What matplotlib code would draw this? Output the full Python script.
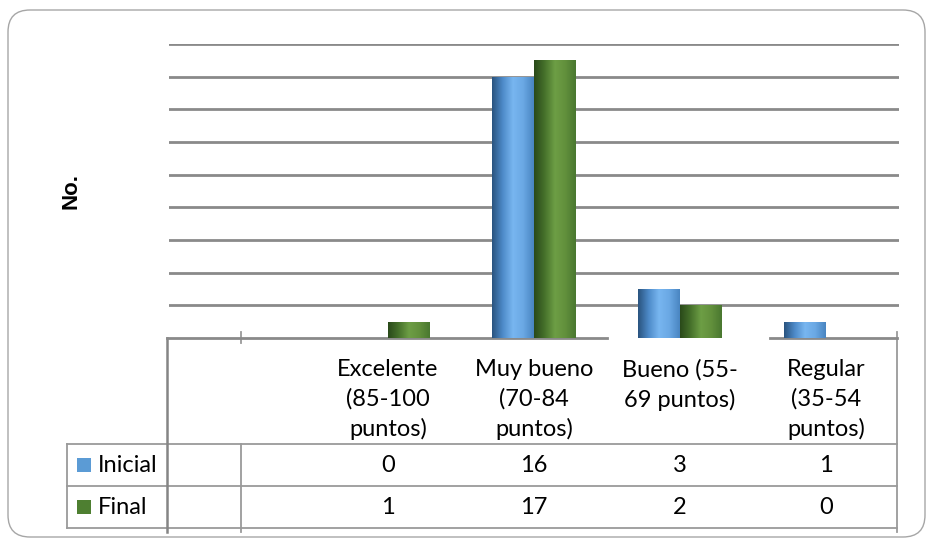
import numpy as np
import matplotlib
matplotlib.use("Agg")
import matplotlib.pyplot as plt
from matplotlib.colors import LinearSegmentedColormap
from matplotlib.patches import FancyBboxPatch, Rectangle
from matplotlib.transforms import blended_transform_factory

# data ---------------------------------------------------------------
categories = ["", "Excelente\n(85-100\npuntos)", "Muy bueno\n(70-84\npuntos)",
              "Bueno (55-\n69 puntos)", "Regular\n(35-54\npuntos)"]
series = ["Inicial", "Final"]
inicial = [None, 0, 16, 3, 1]
final = [None, 1, 17, 2, 0]
y_label = "No."

W, H = 930, 539
fig = plt.figure(figsize=(W / 100, H / 100), dpi=100)

# pixel overlay (frame + table) --------------------------------------
pax = fig.add_axes([0, 0, 1, 1])
pax.set_xlim(0, W)
pax.set_ylim(H, 0)
pax.axis("off")

frame = FancyBboxPatch((8, 10), 917, 527, boxstyle="round,pad=0,rounding_size=22",
                       fc="white", ec="#a6a6a6", lw=1.0)
pax.add_patch(frame)

# main bar axes ------------------------------------------------------
left, right, top, base = 167, 897, 44, 338
ax = fig.add_axes([(left + 2) / W, (H - base) / H, (right - left) / W, (base - top) / H])
ax.patch.set_visible(False)
for s in ax.spines.values():
    s.set_visible(False)
ax.set_yticks(range(2, 19, 2))
ax.yaxis.grid(True, color="#8a8a8a", lw=2.0)
ax.set_axisbelow(True)
ax.tick_params(left=False, bottom=False, labelleft=False, labelbottom=False)

blue_cm = LinearSegmentedColormap.from_list("b", ["#2a5480", "#4d8ac8", "#78b6f0", "#6aa8e4", "#4a86c2"])
green_cm = LinearSegmentedColormap.from_list("g", ["#2a4a1a", "#46712b", "#6d9e45", "#62903c", "#4a7830"])
grad = np.linspace(0, 1, 64).reshape(1, -1)

bw = 0.287
x = np.arange(len(categories))
for vals, off, cm in [(inicial, -bw / 2, blue_cm), (final, bw / 2, green_cm)]:
    for xi, v in zip(x, vals):
        if not v:
            continue
        bar = ax.bar(xi + off, v, width=bw, color="none", edgecolor="none")[0]
        im = ax.imshow(grad, cmap=cm, aspect="auto", extent=(xi + off - bw / 2, xi + off + bw / 2, 0, v),
                       zorder=2, interpolation="bilinear")
        im.set_clip_path(bar)

ax.set_xlim(-0.5, len(categories) - 0.5)
ax.set_ylim(0, 18)

fig.text(71 / W, 1 - 191 / H, y_label, rotation=90, ha="center", va="center",
         fontsize=16, fontweight="bold", family="Liberation Sans")

# data table ---------------------------------------------------------
lc = "#9a9a9a"
for yy in (444, 486, 528):
    pax.plot([67, right], [yy, yy], color=lc, lw=1.3)
pax.plot([67, 67], [444, 528], color=lc, lw=1.3)
pax.plot([left, left], [base, 532], color="#858585", lw=1.8)
pax.plot([241, 241], [332, 343], color=lc, lw=1.3)
pax.plot([241, 241], [444, 532], color=lc, lw=1.3)
pax.plot([right, right], [332, 532], color=lc, lw=1.3)
# baseline (broken under the Bueno bars, as in the source)
pax.plot([left, 607], [base, base], color="#8a8a8a", lw=2.0)
pax.plot([770, right], [base, base], color="#8a8a8a", lw=2.0)

font = "Lato"
fs = 17
tr = blended_transform_factory(ax.transData, pax.transData)
for xi, lab in zip(x, categories):
    pax.text(xi, 359, lab, transform=tr, ha="center", va="top", fontsize=fs,
             family=font, linespacing=1.45)

row_y = [465, 507]
colors = ["#5b9bd5", "#4e7f31"]
for name, vals, yy, c in zip(series, [inicial, final], row_y, colors):
    pax.add_patch(Rectangle((77, yy - 7), 14, 14, fc=c, ec="none"))
    pax.text(98, yy, name, ha="left", va="center", fontsize=fs, family=font)
    for xi, v in zip(x, vals):
        if v is None:
            continue
        pax.text(xi, yy, str(v), transform=tr, ha="center", va="center", fontsize=fs, family=font)

fig.savefig("out.png", dpi=100)
